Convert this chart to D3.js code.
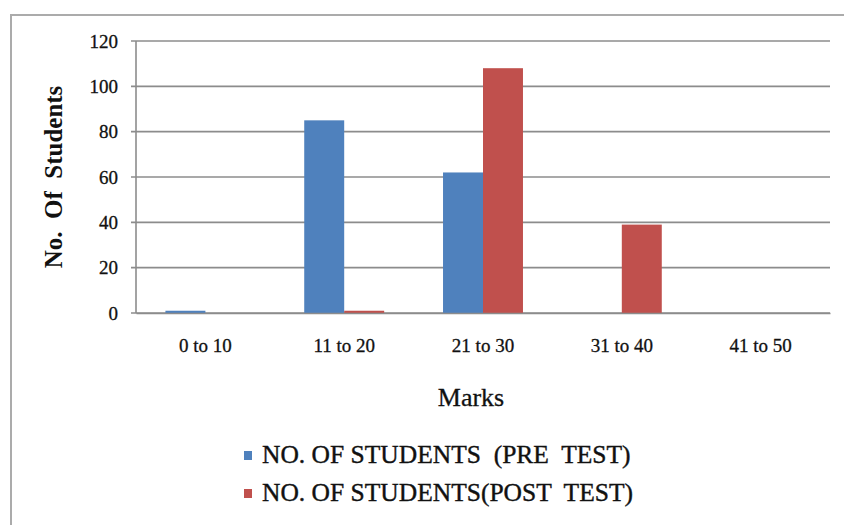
<!DOCTYPE html>
<html>
<head>
<meta charset="utf-8">
<script src="https://cdn.jsdelivr.net/npm/d3@7"></script>
<style>
  body { margin: 0; background: #fff; }
  text { font-family: "Liberation Serif", "Times New Roman", serif; fill: #111; }
</style>
</head>
<body>
<div id="chart"></div>
<script>
// data
var categories = ["0 to 10", "11 to 20", "21 to 30", "31 to 40", "41 to 50"];
var seriesNames = ["NO. OF STUDENTS  (PRE  TEST)", "NO. OF STUDENTS(POST  TEST)"];
var preTest = [1, 85, 62, 0, 0];
var postTest = [0, 1, 108, 39, 0];
var yTicks = [0, 20, 40, 60, 80, 100, 120];
var colors = ["#4F81BD", "#C0504D"];

var svgWidth = 844;
var svgHeight = 525;

var margin = { top: 41, left: 136, right: 14, bottom: 212 };
var width = svgWidth - margin.left - margin.right;
var height = svgHeight - margin.top - margin.bottom;

var svg = d3.select("#chart")
  .append("svg")
  .attr("width", svgWidth)
  .attr("height", svgHeight);

// outer frame (only top and left show)
svg.append("path")
  .attr("d", "M11,525 V15 H844")
  .attr("fill", "none")
  .attr("stroke", "#ababab")
  .attr("stroke-width", 2);

var chartGroup = svg.append("g")
  .attr("transform", `translate(${margin.left}, ${margin.top})`);

var xScale = d3.scaleBand()
  .domain(categories)
  .range([0, width])
  .paddingInner(0.424)
  .paddingOuter(0.212);

var xSub = d3.scaleBand()
  .domain([0, 1])
  .range([0, xScale.bandwidth()]);

var yScale = d3.scaleLinear()
  .domain([0, 120])
  .range([height, 0]);

// gridlines
chartGroup.append("g")
  .selectAll("line")
  .data(yTicks)
  .enter()
  .append("line")
  .attr("x1", -5)
  .attr("x2", width)
  .attr("y1", d => yScale(d))
  .attr("y2", d => yScale(d))
  .attr("stroke", "#8c8c8c")
  .attr("stroke-width", 1.6);

// y axis
var yAxis = d3.axisLeft(yScale)
  .tickValues(yTicks)
  .tickSize(0)
  .tickPadding(18);

var yAxisG = chartGroup.append("g").call(yAxis);
yAxisG.select(".domain").remove();
yAxisG.selectAll("text")
  .style("font-size", "19px")
  .style("font-family", "Liberation Serif, serif")
  .attr("fill", "#111")
  .attr("stroke", "#111")
  .attr("stroke-width", 0.3);

chartGroup.append("line")
  .attr("x1", 0).attr("x2", 0)
  .attr("y1", 0).attr("y2", height)
  .attr("stroke", "#8c8c8c")
  .attr("stroke-width", 1.6);

// bars
var series = [preTest, postTest];
series.forEach(function(values, si) {
  chartGroup.append("g")
    .selectAll("rect")
    .data(values)
    .enter()
    .append("rect")
    .attr("x", (d, i) => xScale(categories[i]) + xSub(si))
    .attr("y", d => yScale(d))
    .attr("width", xSub.bandwidth())
    .attr("height", d => height - yScale(d))
    .attr("fill", colors[si]);
});

// x axis
var xAxis = d3.axisBottom(xScale).tickSize(0).tickPadding(26);
var xAxisG = chartGroup.append("g")
  .attr("transform", `translate(0, ${height})`)
  .call(xAxis);
xAxisG.select(".domain")
  .attr("stroke", "#8c8c8c")
  .attr("stroke-width", 1.6);
xAxisG.selectAll("text")
  .style("font-size", "19px")
  .style("font-family", "Liberation Serif, serif")
  .attr("fill", "#111")
  .attr("stroke", "#111")
  .attr("stroke-width", 0.3);

// axis titles
svg.append("text")
  .attr("transform", "translate(62, 177) rotate(-90)")
  .attr("text-anchor", "middle")
  .style("font-size", "25px")
  .style("font-weight", "bold")
  .style("white-space", "pre")
  .text("No.  Of  Students");

svg.append("text")
  .attr("x", 471)
  .attr("y", 406)
  .attr("text-anchor", "middle")
  .style("font-size", "26px")
  .attr("stroke", "#111")
  .attr("stroke-width", 0.3)
  .text("Marks");

// legend
var legend = svg.append("g")
  .selectAll("g")
  .data(seriesNames)
  .enter()
  .append("g")
  .attr("transform", (d, i) => `translate(244, ${463 + i * 38})`);

legend.append("rect")
  .attr("x", 0)
  .attr("y", -12)
  .attr("width", 8)
  .attr("height", 9)
  .attr("fill", (d, i) => colors[i]);

legend.append("text")
  .attr("x", 18)
  .attr("y", 0)
  .style("font-size", "25.5px")
  .style("white-space", "pre")
  .attr("stroke", "#111")
  .attr("stroke-width", 0.4)
  .text(d => d);
</script>
</body>
</html>
